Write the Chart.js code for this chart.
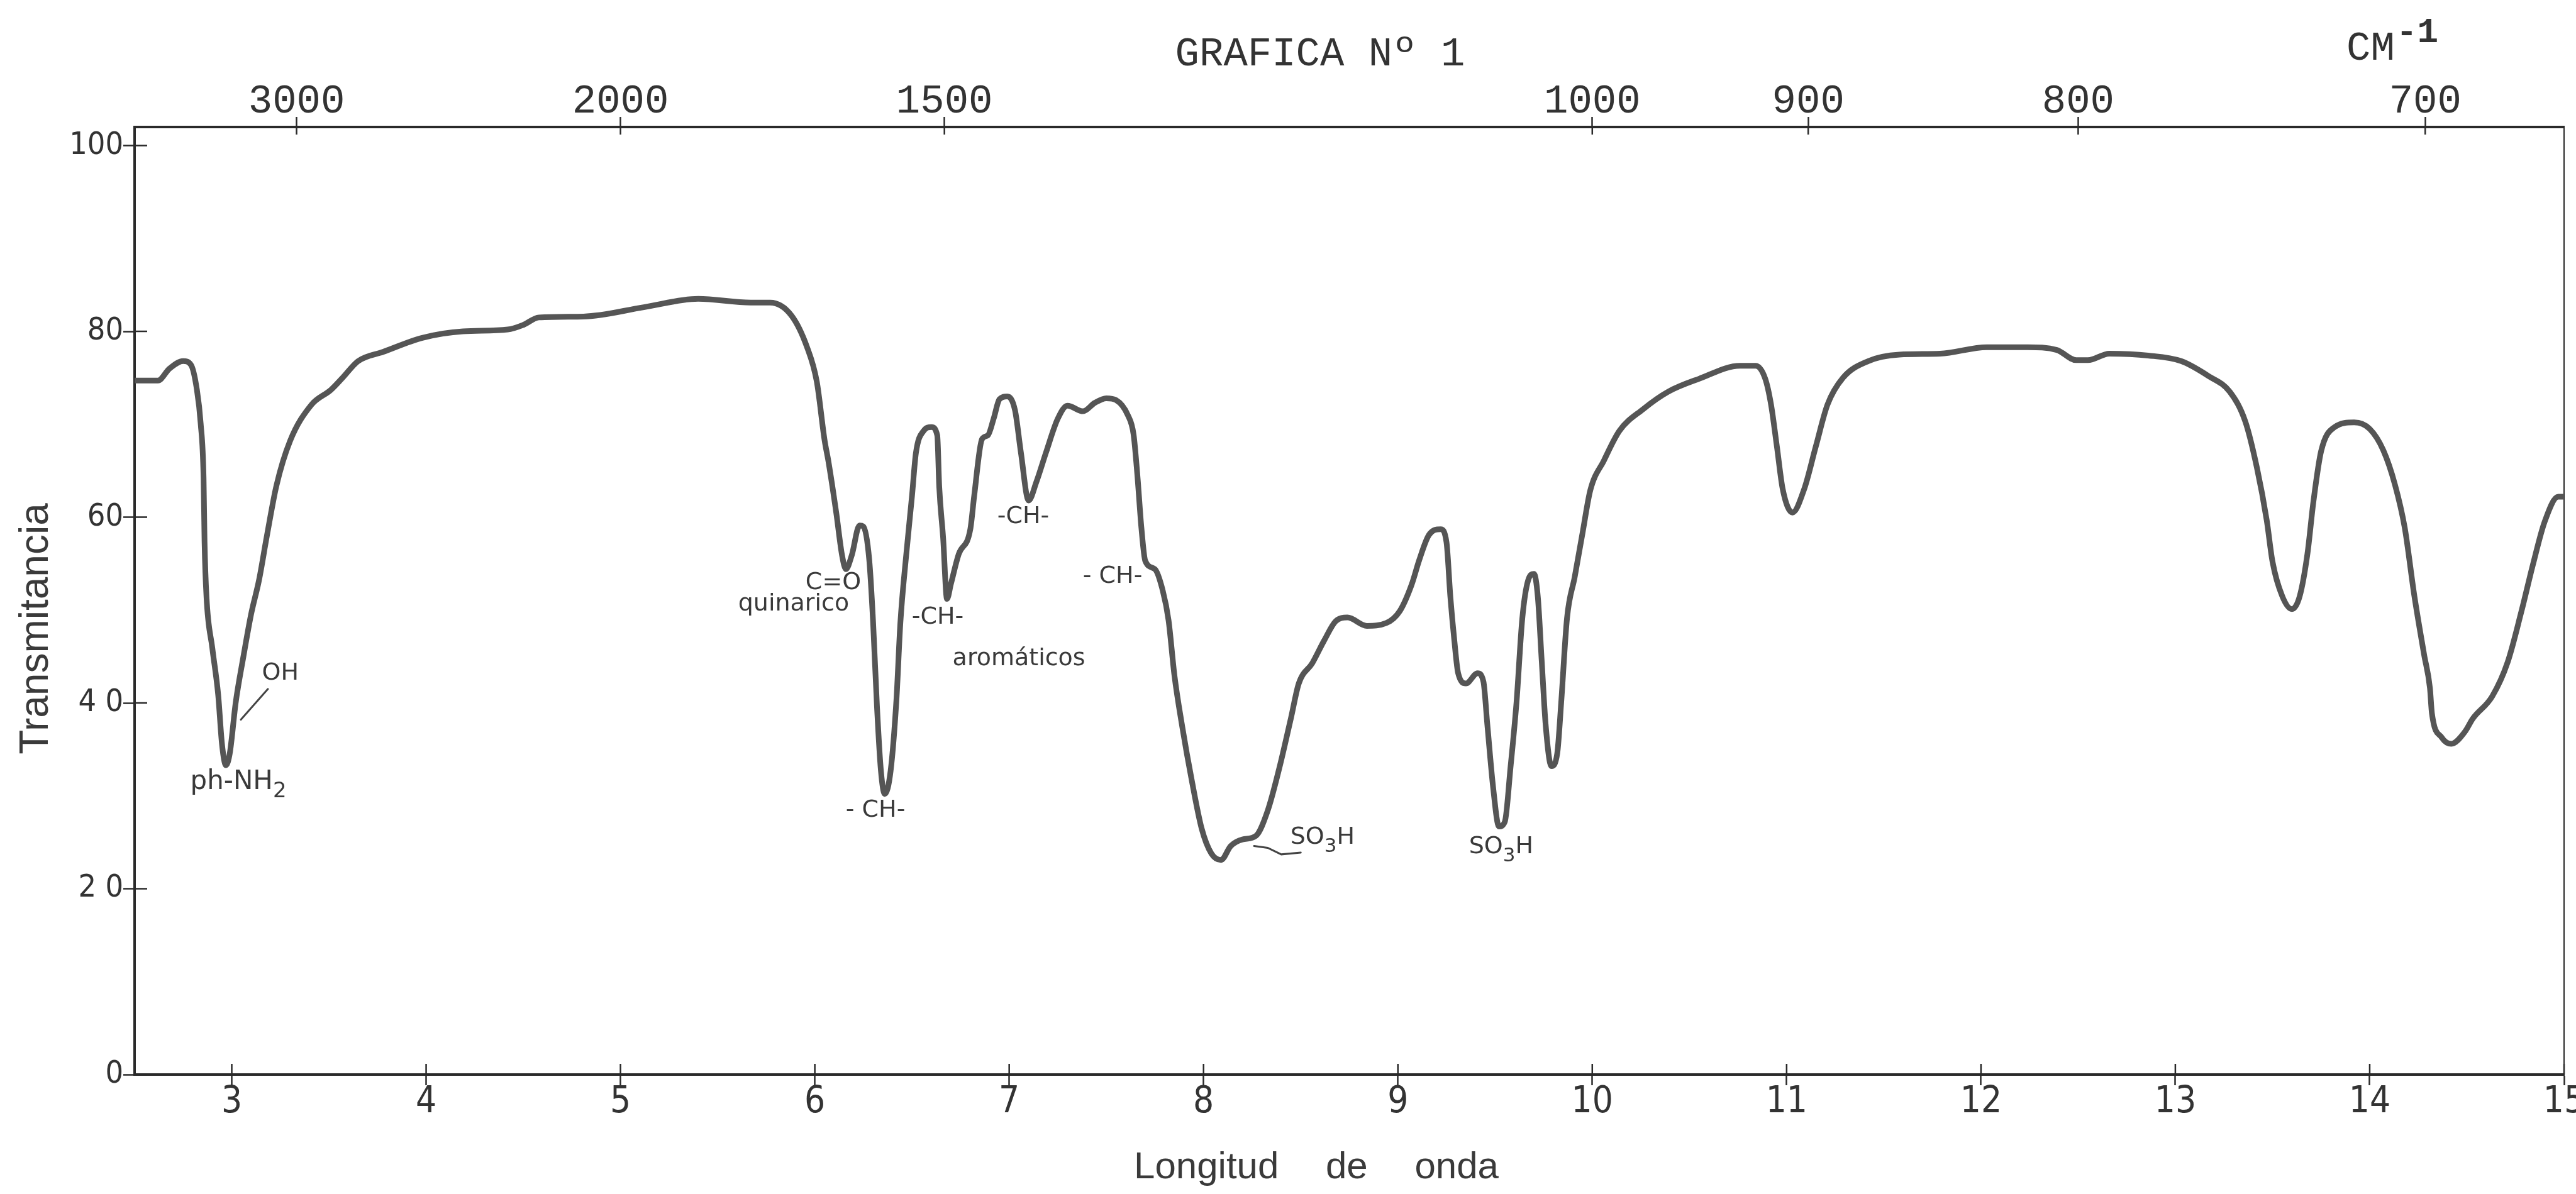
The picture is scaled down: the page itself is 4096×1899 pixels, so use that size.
<!DOCTYPE html>
<html>
<head>
<meta charset="utf-8">
<script src="https://cdn.jsdelivr.net/npm/chart.js@4.4.1/dist/chart.umd.min.js"></script>
<style>
  html, body { margin: 0; padding: 0; background: #ffffff; }
  canvas { display: block; }
</style>
</head>
<body>
<canvas id="chart" width="4096" height="1899"></canvas>
<script>
// ---- data (wavelength in microns, % transmittance) ----
const wavelength = [
  2.50, 2.62, 2.68, 2.75, 2.79, 2.82, 2.84, 2.855, 2.86, 2.87, 2.90, 2.93, 2.95, 2.97, 2.99,
  3.02, 3.06, 3.10, 3.14, 3.18, 3.23, 3.30, 3.41, 3.51, 3.57, 3.65, 3.78, 3.98, 4.19, 4.42,
  4.50, 4.58, 4.81, 5.12, 5.40, 5.67, 5.77, 5.88, 5.96, 6.01, 6.05, 6.07, 6.11, 6.14, 6.16,
  6.19, 6.23, 6.25, 6.28, 6.30, 6.32, 6.34, 6.36, 6.39, 6.42, 6.44, 6.47, 6.50, 6.52, 6.56,
  6.60, 6.63, 6.64, 6.66, 6.68, 6.70, 6.74, 6.80, 6.82, 6.86, 6.89, 6.92, 6.95, 6.99, 7.03,
  7.06, 7.10, 7.14, 7.19, 7.25, 7.30, 7.38, 7.44, 7.50, 7.55, 7.61, 7.64, 7.66, 7.68, 7.70,
  7.75, 7.79, 7.82, 7.85, 7.89, 7.94, 7.99, 8.04, 8.09, 8.14, 8.20, 8.27, 8.33, 8.39, 8.45,
  8.49, 8.56, 8.62, 8.68, 8.74, 8.84, 8.94, 9.01, 9.07, 9.11, 9.16, 9.22, 9.25, 9.27, 9.29,
  9.31, 9.35, 9.41, 9.44, 9.46, 9.49, 9.52, 9.55, 9.58, 9.61, 9.64, 9.67, 9.70, 9.72, 9.74,
  9.76, 9.79, 9.82, 9.84, 9.87, 9.91, 9.95, 9.99, 10.06, 10.14, 10.26, 10.39, 10.55, 10.76, 10.84,
  10.89, 10.92, 10.95, 10.98, 11.03, 11.09, 11.15, 11.21, 11.29, 11.42, 11.58, 11.79, 12.03, 12.24, 12.39,
  12.49, 12.55, 12.66, 12.86, 13.03, 13.17, 13.28, 13.36, 13.42, 13.47, 13.50, 13.55, 13.60, 13.64, 13.68,
  13.71, 13.75, 13.82, 13.92, 14.00, 14.07, 14.13, 14.18, 14.23, 14.28, 14.31, 14.32, 14.37, 14.42, 14.49,
  14.53, 14.63, 14.71, 14.78, 14.84, 14.90, 14.97, 15.00
];
const transmittance = [
  74.7, 74.7, 76.0, 76.8, 76.4, 73.8, 70.1, 64.2, 57.3, 51.4, 45.9, 40.9, 35.5, 33.3, 34.6,
  40.0, 45.0, 49.6, 53.2, 57.9, 63.4, 68.2, 72.1, 73.7, 75.0, 76.8, 77.8, 79.3, 80.0, 80.2,
  80.7, 81.5, 81.6, 82.6, 83.5, 83.1, 83.1, 81.7, 78.3, 74.6, 68.3, 66.0, 60.5, 55.9, 54.4,
  55.9, 59.1, 59.0, 55.4, 48.6, 39.5, 32.7, 30.2, 32.7, 40.4, 48.6, 55.9, 62.3, 66.9, 69.3,
  69.7, 68.8, 63.3, 57.8, 51.2, 52.8, 56.0, 58.7, 62.3, 68.4, 68.8, 70.6, 72.7, 73.0, 71.5,
  67.0, 61.8, 63.8, 67.0, 70.6, 72.0, 71.4, 72.3, 72.8, 72.6, 71.0, 68.9, 64.4, 58.9, 55.3,
  54.4, 52.1, 48.9, 43.0, 37.5, 31.6, 26.5, 23.8, 23.1, 24.6, 25.3, 25.7, 28.4, 33.0, 38.4,
  42.1, 44.3, 46.7, 48.8, 49.2, 48.3, 48.6, 49.9, 52.7, 55.4, 58.1, 58.7, 57.3, 51.4, 46.8,
  43.2, 42.1, 43.2, 42.3, 37.7, 30.9, 26.7, 27.2, 33.2, 40.0, 49.1, 53.2, 53.9, 51.4, 44.5,
  37.7, 33.2, 34.6, 40.0, 49.1, 53.6, 58.3, 62.9, 66.1, 69.3, 71.6, 73.5, 74.9, 76.3, 76.3,
  74.9, 72.1, 67.6, 63.0, 60.5, 63.0, 67.6, 72.1, 75.0, 76.8, 77.5, 77.6, 78.3, 78.3, 78.0,
  76.9, 76.9, 77.6, 77.4, 76.8, 75.2, 73.5, 70.3, 65.3, 59.7, 55.2, 51.5, 50.1, 51.5, 56.1,
  61.6, 67.1, 69.7, 70.2, 69.5, 67.2, 63.5, 58.9, 51.5, 45.2, 41.6, 38.9, 36.3, 35.6, 36.9,
  38.3, 40.7, 44.4, 49.8, 54.9, 59.5, 62.2, 62.2
];

// ---- axes ----
const bottomTickValues = [3, 4, 5, 6, 7, 8, 9, 10, 11, 12, 13, 14, 15];
const yTickValues = [0, 20, 40, 60, 80, 100];
const yTickLabels = ['0', '2 0', '4 0', '60', '80', '100'];
const topTickLabels = [3000, 2000, 1500, 1000, 900, 800, 700]; // cm-1

// ---- annotations (placed in data coordinates) ----
const annotationTexts = ['OH', 'ph-NH\u2082', 'C=O', 'quinarico', '- CH-', '-CH-', '-CH-', 'arom\u00e1ticos', '- CH-', 'SO\u2083H', 'SO\u2083H'];
const annotationX     = [3.25, 3.034, 6.095, 5.891, 6.312, 6.632, 7.072, 7.05, 7.532, 8.612, 9.531];
const annotationY     = [43.2, 31.5, 52.9, 50.6, 28.4, 49.2, 60.0, 44.7, 53.6, 25.5, 24.5];
const ohLeaderX  = [3.186, 3.047];
const ohLeaderY  = [41.5, 38.2];
const so3LeaderX = [8.26, 8.33, 8.40, 8.50];
const so3LeaderY = [24.6, 24.4, 23.7, 23.9];

const AXIS = '#2a2a2a';
const TEXT = '#3a3a3a';
const SUBS = '\u2080\u2081\u2082\u2083\u2084\u2085\u2086\u2087\u2088\u2089';

// draws a label centred on (x, y); subscript digits are drawn smaller and lowered
function drawLabel(ctx, text, x, y, size, family) {
  const parts = [];
  for (const ch of text) {
    const k = SUBS.indexOf(ch);
    const sub = k >= 0;
    const c = sub ? String(k) : ch;
    const last = parts[parts.length - 1];
    if (last && last.sub === sub) last.t += c; else parts.push({ t: c, sub });
  }
  const mainFont = size + 'px ' + family;
  const subFont = Math.round(size * 0.82) + 'px ' + family;
  let w = 0;
  parts.forEach(p => { ctx.font = p.sub ? subFont : mainFont; p.w = ctx.measureText(p.t).width; w += p.w; });
  let cx = x - w / 2;
  ctx.textAlign = 'left';
  parts.forEach(p => {
    ctx.font = p.sub ? subFont : mainFont;
    ctx.fillText(p.t, cx, y + (p.sub ? size * 0.38 : 0));
    cx += p.w;
  });
}

const decorPlugin = {
  id: 'decor',
  afterDraw(chart) {
    const ctx = chart.ctx;
    const xs = chart.scales.x, ys = chart.scales.y, xt = chart.scales.xTop;
    const ca = chart.chartArea;
    ctx.save();
    // inner halves of the tick marks
    ctx.strokeStyle = AXIS;
    ctx.lineWidth = 2.5;
    ctx.beginPath();
    xs.ticks.forEach(t => { const p = xs.getPixelForValue(t.value); ctx.moveTo(p, ca.bottom); ctx.lineTo(p, ca.bottom - 17); });
    xt.ticks.forEach(t => { const p = xt.getPixelForValue(t.value); ctx.moveTo(p, ca.top); ctx.lineTo(p, ca.top + 12); });
    ys.ticks.forEach(t => { const p = ys.getPixelForValue(t.value); ctx.moveTo(ca.left, p); ctx.lineTo(ca.left + 20, p); });
    ctx.stroke();

    // title
    ctx.fillStyle = '#333';
    ctx.textAlign = 'center';
    ctx.textBaseline = 'alphabetic';
    ctx.font = '64px "Liberation Mono", monospace';
    ctx.fillText('GRAFICA N\u00ba 1', 2099, 104);

    // unit on top axis
    ctx.textAlign = 'left';
    ctx.fillText('CM', 3731, 95);
    ctx.font = 'bold 56px "Liberation Mono", monospace';
    ctx.fillText('-1', 3810, 67);

    // y-axis title
    ctx.save();
    ctx.translate(76, 1000);
    ctx.rotate(-Math.PI / 2);
    ctx.textAlign = 'center';
    ctx.font = '64px "Liberation Sans", Arial, sans-serif';
    ctx.fillStyle = TEXT;
    ctx.fillText('Transmitancia', 0, 0);
    ctx.restore();

    // x-axis title (wide word spacing as in the original)
    ctx.font = '60px "Liberation Sans", Arial, sans-serif';
    ctx.fillStyle = TEXT;
    ctx.textAlign = 'center';
    if ('wordSpacing' in ctx) ctx.wordSpacing = '58px';
    ctx.fillText('Longitud de onda', 2093, 1874);
    if ('wordSpacing' in ctx) ctx.wordSpacing = '0px';

    // annotations
    ctx.textBaseline = 'middle';
    ctx.fillStyle = TEXT;
    annotationTexts.forEach((t, i) => {
      const size = t.indexOf('NH') >= 0 ? 42 : 38;
      drawLabel(ctx, t, xs.getPixelForValue(annotationX[i]), ys.getPixelForValue(annotationY[i]), size, '"DejaVu Sans", sans-serif');
    });
    // leader lines
    ctx.strokeStyle = '#444';
    ctx.lineWidth = 3;
    ctx.lineCap = 'round';
    [[ohLeaderX, ohLeaderY], [so3LeaderX, so3LeaderY]].forEach(([lx, ly]) => {
      ctx.beginPath();
      lx.forEach((v, i) => {
        const px = xs.getPixelForValue(v), py = ys.getPixelForValue(ly[i]);
        if (i === 0) ctx.moveTo(px, py); else ctx.lineTo(px, py);
      });
      ctx.stroke();
    });
    ctx.restore();
  }
};

const tickFont = { family: '"Liberation Sans Narrow", "DejaVu Sans Condensed", "Liberation Sans", sans-serif', size: 58 };

new Chart(document.getElementById('chart'), {
  type: 'line',
  data: {
    datasets: [{
      data: wavelength.map((w, i) => ({ x: w, y: transmittance[i] })),
      borderColor: '#555555',
      borderWidth: 9,
      pointRadius: 0,
      fill: false,
      cubicInterpolationMode: 'monotone',
      borderCapStyle: 'round',
      borderJoinStyle: 'round',
      xAxisID: 'x',
      yAxisID: 'y'
    }]
  },
  options: {
    responsive: false,
    animation: false,
    devicePixelRatio: 1,
    layout: { padding: 0 },
    plugins: { legend: { display: false }, tooltip: { enabled: false }, title: { display: false } },
    scales: {
      x: {
        type: 'linear', position: 'bottom', min: 2.5, max: 15,
        afterBuildTicks: s => { s.ticks = bottomTickValues.map(v => ({ value: v })); },
        afterFit: s => { s.height = 190; s.paddingLeft = 0; s.paddingRight = 0; },
        ticks: { autoSkip: false, maxRotation: 0, padding: -7, color: '#333', font: tickFont, callback: v => String(v) },
        grid: { drawOnChartArea: false, drawTicks: true, tickLength: 17, tickWidth: 2.5, tickColor: AXIS },
        border: { display: true, color: AXIS, width: 4 }
      },
      xTop: {
        type: 'linear', position: 'top', min: 2.5, max: 15,
        afterBuildTicks: s => { s.ticks = topTickLabels.map(w => ({ value: 10000 / w })); },
        afterFit: s => { s.height = 202; s.paddingLeft = 0; s.paddingRight = 0; },
        ticks: { autoSkip: false, maxRotation: 0, padding: -14, color: '#333',
                 font: { family: '"Liberation Mono", monospace', size: 64 },
                 callback: (v, i) => String(topTickLabels[i]) },
        grid: { drawOnChartArea: false, drawTicks: true, tickLength: 16, tickWidth: 2.5, tickColor: AXIS },
        border: { display: true, color: AXIS, width: 4 }
      },
      y: {
        type: 'linear', position: 'left', min: 0, max: 102,
        afterBuildTicks: s => { s.ticks = yTickValues.map(v => ({ value: v })); },
        afterFit: s => { s.width = 214; s.paddingTop = 0; s.paddingBottom = 0; },
        ticks: { autoSkip: false, padding: 0, color: '#333',
                 font: { family: tickFont.family, size: 50 },
                 callback: (v, i) => yTickLabels[i] },
        grid: { drawOnChartArea: false, drawTicks: true, tickLength: 18, tickWidth: 2.5, tickColor: AXIS },
        border: { display: true, color: AXIS, width: 4 }
      },
      yR: {
        type: 'linear', position: 'right', min: 0, max: 102,
        afterFit: s => { s.width = 19; s.paddingTop = 0; s.paddingBottom = 0; },
        ticks: { display: false },
        grid: { drawOnChartArea: false, drawTicks: false },
        border: { display: true, color: AXIS, width: 2 }
      }
    }
  },
  plugins: [decorPlugin]
});
</script>
</body>
</html>
